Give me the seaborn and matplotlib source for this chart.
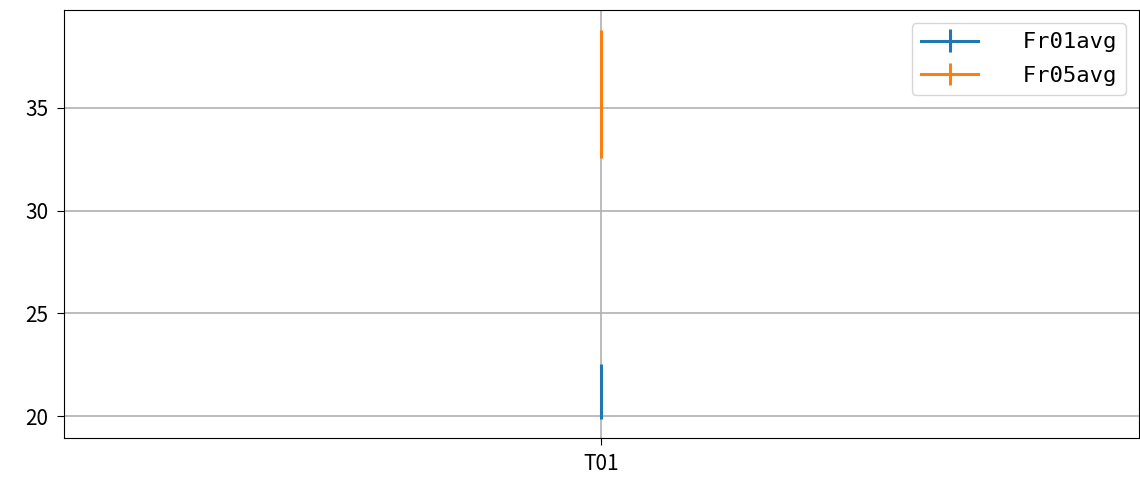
import numpy as np
import matplotlib
matplotlib.use("Agg")
import matplotlib.pyplot as plt
import seaborn as sns

# data
categories = ["T01"]
series_names = ["  Fr01avg", "  Fr05avg"]
means = [[21.2], [35.7]]
errors = [[1.32], [3.12]]

plt.rcParams['font.family'] = ['Noto Sans CJK SC', 'DejaVu Sans']
plt.rcParams['font.size'] = 15
colors = sns.color_palette("tab10", 2)

fig, ax = plt.subplots(figsize=(11.4, 4.8), dpi=100)
fig.subplots_adjust(left=0.056, right=0.999, top=0.979, bottom=0.0875)

x = np.arange(len(categories))
for name, m, e, c in zip(series_names, means, errors, colors):
    ax.errorbar(x, m, yerr=e, label=name, color=c, linewidth=2.2)

ax.set_xticks(x)
ax.set_xticklabels(categories)
ax.set_yticks([20, 25, 30, 35])
ax.tick_params(labelsize=15, length=5, pad=6)
ax.grid(True, color="#b0b0b0", linewidth=1.2)
ax.legend(loc="upper right", prop={'family': ['DejaVu Sans Mono'], 'size': 16},
          handlelength=2.6, labelspacing=0.6, borderaxespad=0.6)

plt.savefig("out.png")
